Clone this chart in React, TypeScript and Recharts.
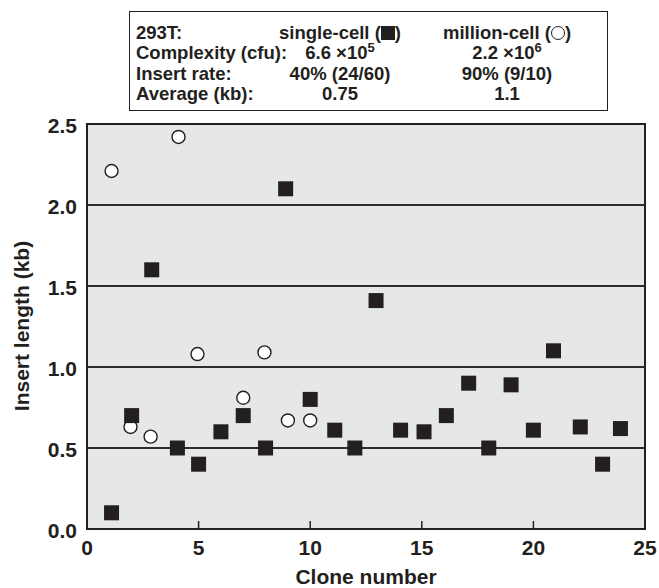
import React from "react";
import { ScatterChart, Scatter, XAxis, YAxis, CartesianGrid, ReferenceArea } from "recharts";

// single-cell clones (filled squares)
const singleX = [1.1, 2, 2.9, 4.05, 5, 6, 7, 8, 8.9, 10, 11.1, 12, 12.95, 14.05, 15.1, 16.1, 17.1, 18, 19, 20, 20.9, 22.1, 23.1, 23.9];
const singleY = [0.1, 0.7, 1.6, 0.5, 0.4, 0.6, 0.7, 0.5, 2.1, 0.8, 0.61, 0.5, 1.41, 0.61, 0.6, 0.7, 0.9, 0.5, 0.89, 0.61, 1.1, 0.63, 0.4, 0.62];

// million-cell clones (open circles)
const millionX = [1.1, 1.95, 2.85, 4.1, 4.95, 7, 7.95, 9, 10];
const millionY = [2.21, 0.63, 0.57, 2.42, 1.08, 0.81, 1.09, 0.67, 0.67];

const xTicks = [0, 5, 10, 15, 20, 25];
const yTicks = [0, 0.5, 1, 1.5, 2, 2.5];

const tableLabels = ["293T:", "Complexity (cfu):", "Insert rate:", "Average (kb):"];
const singleCol = ["single-cell", "6.6 ×10", "40% (24/60)", "0.75"];
const millionCol = ["million-cell", "2.2 ×10", "90% (9/10)", "1.1"];
const complexityExp = ["5", "6"];

const INK = "#231f20";
const FONT = "'Liberation Sans', Arial, Helvetica, sans-serif";

const single = singleX.map((x, i) => ({ x, y: singleY[i] }));
const million = millionX.map((x, i) => ({ x, y: millionY[i] }));

const Square = (p: any) => (
  <rect x={p.cx - 7.5} y={p.cy - 7.5} width={15} height={15} fill={INK} />
);
const Ring = (p: any) => (
  <circle cx={p.cx} cy={p.cy} r={6.5} fill="#fff" stroke={INK} strokeWidth={1.4} />
);

const XTick = (p: any) => {
  const v = p.payload.value;
  const inner = v > 0 && v < 25;
  return (
    <g>
      {inner && <line x1={p.x} y1={p.y} x2={p.x} y2={p.y - 8} stroke={INK} strokeWidth={1.5} />}
      <text x={p.x} y={p.y + 26} textAnchor="middle" fill={INK} fontSize={21} fontWeight="bold" fontFamily={FONT}>
        {v}
      </text>
    </g>
  );
};

const legendSquare = (
  <span style={{ display: "inline-block", width: 14, height: 14, background: INK, verticalAlign: "-1px" }} />
);
const legendCircle = (
  <span style={{ display: "inline-block", width: 12, height: 12, borderRadius: "50%", border: `1.3px solid ${INK}`, verticalAlign: "-1px" }} />
);

function cell(row: number, col: string[], which: number) {
  if (row === 0) {
    return (
      <>
        {col[0]} ({which === 0 ? legendSquare : legendCircle})
      </>
    );
  }
  if (row === 1) {
    return (
      <>
        {col[1]}
        <sup style={{ fontSize: 13, lineHeight: 0, verticalAlign: "7px" }}>{complexityExp[which]}</sup>
      </>
    );
  }
  return col[row];
}

export default function App() {
  return (
    <div style={{ position: "relative", width: 659, height: 588, fontFamily: FONT, color: INK }}>
      <style>{"body{margin:0}"}</style>
      <ScatterChart width={659} height={588} margin={{ top: 124, right: 14, bottom: 0, left: 0 }}>
        <CartesianGrid fill="#e6e7e8" stroke="#2e2c2d" strokeWidth={2} vertical={false} />
        <XAxis
          type="number"
          dataKey="x"
          domain={[0, 25]}
          ticks={xTicks}
          interval={0}
          height={59}
          axisLine={false}
          tickLine={false}
          tickSize={0}
          tickMargin={0}
          tick={<XTick />}
          label={{
            content: () => (
              <text x={366} y={584} textAnchor="middle" fill={INK} fontSize={21} fontWeight="bold" fontFamily={FONT}>
                Clone number
              </text>
            ),
          }}
        />
        <YAxis
          type="number"
          dataKey="y"
          domain={[0, 2.5]}
          ticks={yTicks}
          interval={0}
          width={87}
          axisLine={false}
          tickLine={false}
          tickSize={0}
          tickMargin={10}
          tickFormatter={(v: number) => v.toFixed(1)}
          tick={{ fill: INK, fontSize: 21, fontWeight: "bold", fontFamily: FONT, dy: 2 }}
          label={{
            content: () => (
              <text
                x={21}
                y={326}
                transform="rotate(-90 21 326)"
                textAnchor="middle"
                dominantBaseline="central"
                fill={INK}
                fontSize={21}
                fontWeight="bold"
                fontFamily={FONT}
              >
                Insert length (kb)
              </text>
            ),
          }}
        />
        <ReferenceArea x1={0} x2={25} y1={0} y2={2.5} fill="none" stroke={INK} strokeWidth={2} />
        <Scatter data={million} shape={Ring} isAnimationActive={false} />
        <Scatter data={single} shape={Square} isAnimationActive={false} />
      </ScatterChart>

      <div
        style={{
          position: "absolute",
          left: 129,
          top: 11,
          width: 479,
          height: 100,
          boxSizing: "border-box",
          border: `1.5px solid ${INK}`,
          background: "#fff",
          fontSize: 18.5,
          fontWeight: "bold",
          lineHeight: "20px",
        }}
      >
        {tableLabels.map((lab, r) => (
          <div key={lab} style={{ position: "absolute", top: 11 + r * 20.3, left: 0, width: "100%", height: 20, whiteSpace: "nowrap" }}>
            <span style={{ position: "absolute", left: 6 }}>{lab}</span>
            <span style={{ position: "absolute", left: 120, width: 180, textAlign: "center" }}>{cell(r, singleCol, 0)}</span>
            <span style={{ position: "absolute", left: 287, width: 180, textAlign: "center" }}>{cell(r, millionCol, 1)}</span>
          </div>
        ))}
      </div>
    </div>
  );
}
